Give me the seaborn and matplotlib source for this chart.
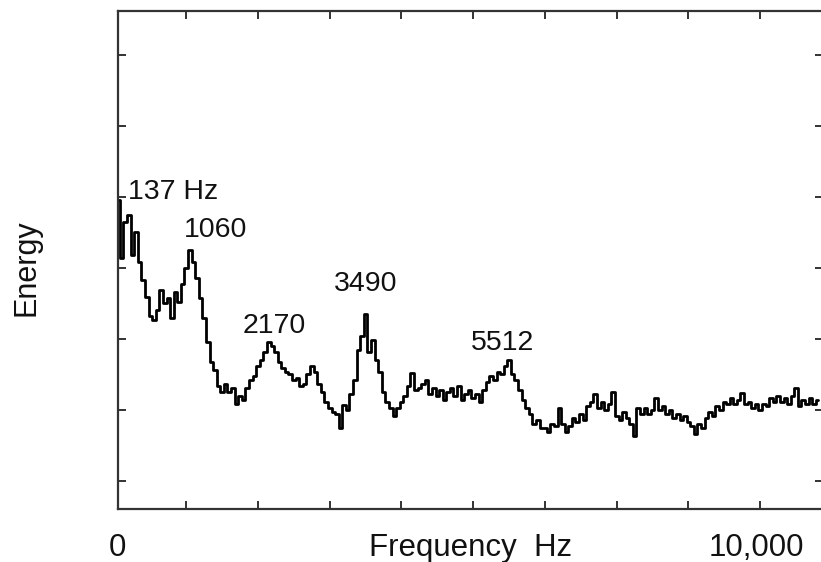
import numpy as np
import pandas as pd
import matplotlib
matplotlib.use("Agg")
import matplotlib.pyplot as plt
import seaborn as sns

# Spectrum sampled in 50 Hz bins, energy in dB (10 dB per tick)
BIN_HZ = 50
energy_db = [
    35.4, 39.6, 31.4, 36.5, 37.5, 31.8, 35.1, 30.8, 28.3, 25.9,
    23.2, 22.7, 24.1, 26.9, 25.1, 25.8, 23.0, 26.6, 25.2, 27.7,
    30.0, 32.5, 30.8, 28.6, 25.8, 23.0, 19.6, 16.8, 15.6, 13.4,
    12.5, 13.7, 12.5, 13.1, 10.8, 12.0, 11.4, 13.1, 14.2, 14.8,
    16.2, 17.0, 18.2, 19.6, 19.0, 18.2, 16.8, 15.9, 15.4, 15.1,
    14.2, 14.5, 13.4, 13.7, 15.1, 16.2, 15.4, 13.7, 12.5, 11.1,
    10.3, 9.7, 9.4, 7.5, 10.7, 10.0, 12.3, 14.2, 18.5, 20.4,
    23.5, 18.2, 19.9, 17.0, 15.4, 12.5, 11.1, 10.3, 9.2, 10.3,
    11.1, 12.0, 13.4, 15.2, 12.8, 13.1, 13.7, 14.2, 12.3, 13.1,
    12.0, 12.8, 11.4, 12.5, 13.1, 12.0, 13.4, 11.4, 12.3, 12.8,
    11.7, 12.3, 11.1, 12.8, 13.9, 14.8, 14.2, 15.4, 15.1, 16.2,
    17.0, 15.1, 14.2, 12.8, 11.4, 10.3, 9.4, 8.0, 8.6, 7.5,
    7.5, 6.9, 8.0, 7.7, 10.3, 8.0, 6.9, 7.7, 8.9, 8.3,
    9.4, 8.6, 10.6, 11.1, 12.3, 10.3, 11.1, 10.0, 10.8, 12.5,
    9.2, 8.6, 9.7, 8.9, 8.0, 6.3, 10.3, 9.4, 10.3, 9.4,
    10.0, 11.7, 10.0, 10.6, 9.4, 10.0, 8.9, 9.4, 8.6, 9.2,
    8.3, 7.7, 6.6, 8.0, 7.5, 8.9, 9.7, 9.2, 10.6, 10.0,
    11.1, 10.8, 11.7, 10.8, 11.4, 12.4, 10.8, 11.1, 10.3, 10.8,
    10.0, 10.8, 10.6, 11.7, 11.1, 12.0, 11.1, 11.7, 10.8, 12.0,
    13.1, 10.6, 11.4, 10.8, 11.7, 10.8, 11.4,
]
freq_hz = BIN_HZ * np.arange(len(energy_db))

# Labelled spectral peaks
peak_labels = ["137 Hz", "1060", "2170", "3490", "5512"]
peak_label_x = [190, 1410, 2220, 3500, 5410]
peak_label_y = [39.7, 34.4, 20.8, 26.7, 18.5]
peak_label_ha = ["left", "center", "center", "center", "center"]

axis_ticks_hz = [1000, 2000, 3000, 4000, 5000, 6000, 7000, 8000, 9000]
axis_ticks_db = [0, 10, 20, 30, 40, 50, 60]

df = pd.DataFrame({"freq": freq_hz, "energy": energy_db})

sns.set_style("ticks")
plt.rcParams["font.family"] = ["Liberation Sans", "DejaVu Sans"]

W, H = 821, 562
fig = plt.figure(figsize=(W / 100, H / 100), dpi=100)
ax = fig.add_axes([118 / W, 1 - 509 / H, (823 - 118) / W, (509 - 11) / H])

sns.lineplot(data=df, x="freq", y="energy", color="black", lw=2.0,
             drawstyle="steps-mid", estimator=None, ax=ax)

ax.set_xlim(49, 9875)
ax.set_ylim(-3.94, 66.2)
ax.set_xticks(axis_ticks_hz)
ax.set_yticks(axis_ticks_db)
ax.set_xticklabels([])
ax.set_yticklabels([])
ax.set_xlabel("")
ax.set_ylabel("")
ax.tick_params(axis="both", which="both", direction="in", length=5.5,
               width=1.4, color="#333333", top=True, right=True,
               bottom=True, left=True)
for name, sp in ax.spines.items():
    sp.set_linewidth(1.6)
    sp.set_color("#333333")
    sp.set_visible(True)
ax.spines["right"].set_visible(False)

for txt, x, y, ha in zip(peak_labels, peak_label_x, peak_label_y, peak_label_ha):
    ax.text(x, y, txt, ha=ha, va="baseline", fontsize=20.5, color="#111111")

# Axis annotations drawn as plain text
fig.text(117 / W, 1 - 556 / H, "0", ha="center", va="baseline",
         fontsize=22.5, color="#111111")
fig.text(470 / W, 1 - 556 / H, "Frequency  Hz", ha="center", va="baseline",
         fontsize=22.5, color="#111111")
fig.text(756 / W, 1 - 556 / H, "10,000", ha="center", va="baseline",
         fontsize=22.5, color="#111111")
fig.text(27 / W, 1 - 268 / H, "Energy", ha="center", va="center",
         rotation=90, fontsize=22, color="#111111")

fig.savefig("out.png", dpi=100, facecolor="white")
